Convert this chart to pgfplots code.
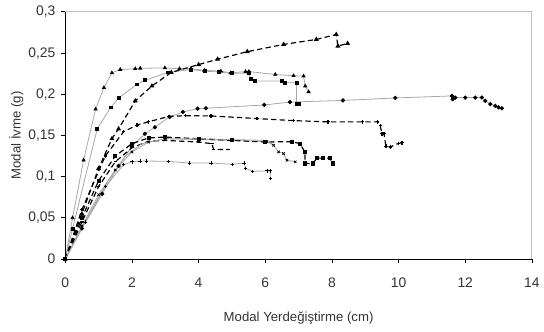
\documentclass[border=0pt]{standalone}
\usepackage{pgfplots}
\pgfplotsset{compat=1.18}
\usepackage{fontspec}
\setmainfont{Liberation Sans}
\begin{document}
\begin{tikzpicture}
\begin{axis}[name=ax,
  scale only axis, width=354pt, height=187.5pt,
  xmin=0, xmax=14, ymin=0, ymax=0.3,
  xtick={0,2,...,14}, ytick={0,0.05,...,0.3},
  /pgf/number format/use comma,
  /pgf/number format/assume math mode=true,
  yticklabel style={/pgf/number format/fixed,/pgf/number format/precision=2, xshift=-1pt},
  xticklabel style={yshift=-8pt},
  tick align=outside, xtick pos=left, ytick pos=left,
  major tick length=3pt,
  tick style={black, line width=0.6pt},
  axis line style={gray!50, line width=0.8pt},
  ticklabel style={font=\fontsize{10.5}{12}\selectfont, text=black!80},
  label style={font=\fontsize{10}{12}\selectfont, text=black!80},
  xlabel={Modal Yerdeğiştirme (cm)},
  ylabel={Modal İvme (g)},
  xlabel style={yshift=-11pt},
  ylabel style={yshift=-3pt},
  clip=false,
  solid/.style={gray!70, line width=0.6pt, mark size=1.3pt, mark options={black, fill=black}},
  dsh/.style={black, line width=0.9pt, dash pattern=on 4pt off 2.5pt, mark size=1.3pt, mark options={black, fill=black, solid}},
]
% C1 solid triangles
\addplot[solid, mark=triangle*] coordinates {(0,0)(0.22,0.05)(0.55,0.12)(0.91,0.182)(1.16,0.208)(1.40,0.226)(1.65,0.230)(2.1,0.231)(2.25,0.2315)(2.99,0.232)(3.43,0.231)(3.77,0.231)(4.17,0.229)(4.67,0.228)(4.96,0.226)(5.41,0.2275)(5.51,0.2275)(6.3,0.224)(6.85,0.2225)(7.15,0.222)(7.2,0.21)(7.3,0.203)};
% C2 solid squares
\addplot[solid, mark=square*, mark size=1.1pt] coordinates {(0,0)(0.22,0.037)(0.96,0.158)(1.36,0.184)(1.62,0.196)(2.15,0.212)(2.39,0.217)(3.09,0.2265)(3.77,0.2300)(4.2,0.228)(4.6,0.227)(5.0,0.2255)(5.5,0.2255)(5.56,0.219)(5.7,0.216)(6.5,0.216)(6.6,0.214)(6.94,0.214)(6.94,0.188)(7.0,0.188)};
% C3 dashed triangles
\addplot[dsh, mark=triangle*] coordinates {(0,0)(0.5,0.055)(1.0,0.11)(1.4,0.146)(1.6,0.158)(2.1,0.192)(2.6,0.21)(3.18,0.2265)(4.0,0.236)(4.57,0.2425)(5.46,0.2517)(6.55,0.2605)(7.53,0.2665)(8.13,0.2725)(8.18,0.2585)(8.47,0.2617)};
% C4 solid circles
\addplot[solid, mark=*] coordinates {(0,0)(0.5,0.037)(1.11,0.079)(1.6,0.113)(2.0,0.137)(2.39,0.152)(2.69,0.160)(3.13,0.1725)(3.53,0.1785)(3.97,0.1825)(4.22,0.183)(5.97,0.187)(6.74,0.1905)(8.33,0.1925)(9.9,0.1955)(11.6,0.198)(11.62,0.194)(11.7,0.196)(12.0,0.196)(12.3,0.196)(12.5,0.196)(12.6,0.192)(12.75,0.188)(12.9,0.186)(13.0,0.184)(13.1,0.183)};
% C5 dashed, plus marks
\addplot[dsh, mark=+] coordinates {(0,0)(0.5,0.06)(1.2,0.125)(1.75,0.1545)(2.15,0.1625)(2.49,0.1665)(3.1,0.173)(3.6,0.174)(4.37,0.1737)(5.75,0.1705)(6.84,0.168)(7.88,0.1665)(8.92,0.1665)(9.37,0.1665)(9.45,0.162)(9.5,0.152)(9.56,0.1525)(9.62,0.137)(9.75,0.136)(10.0,0.1405)(10.1,0.141)};
% C6 solid plus (lowest)
\addplot[solid, mark=+] coordinates {(0,0)(0.6,0.045)(1.2,0.088)(1.75,0.1145)(2.0,0.118)(2.24,0.119)(2.44,0.119)(3.09,0.1185)(3.73,0.1165)(4.37,0.1165)(5.01,0.115)(5.36,0.1165)(5.41,0.110)(5.61,0.1065)(6.05,0.107)(6.15,0.107)(6.15,0.098)};
% C7 solid
\addplot[solid, mark=x] coordinates {(0,0)(0.5,0.04)(1.0,0.078)(1.5,0.108)(2.0,0.13)(2.5,0.142)(3.0,0.146)(4.0,0.145)(5.0,0.144)(6.05,0.1425)(6.25,0.138)(6.4,0.130)(6.55,0.128)(6.65,0.12)(6.9,0.118)};
% C8 dashed squares
\addplot[dsh, mark=square*, mark size=1.1pt] coordinates {(0,0)(0.5,0.05)(1.0,0.095)(1.5,0.125)(2.0,0.14)(2.5,0.147)(3.0,0.148)(4.0,0.146)(5.0,0.144)(6.0,0.142)(6.8,0.1425)(7.04,0.140)(7.19,0.130)(7.19,0.116)(7.44,0.116)(7.54,0.1225)(7.73,0.1225)(7.93,0.1225)(8.03,0.116)};
% C9 dashed
\addplot[dsh, mark=-] coordinates {(0,0)(0.5,0.045)(1.0,0.088)(1.5,0.118)(2.0,0.135)(2.5,0.143)(3.0,0.144)(4.0,0.142)(4.4,0.140)(4.45,0.133)(4.9,0.133)};
% C10 solid
\addplot[solid, mark=none] coordinates {(0,0)(0.6,0.045)(1.2,0.09)(1.8,0.125)(2.3,0.14)(3.0,0.146)(4.0,0.146)(5.0,0.145)(6.0,0.144)(6.2,0.14)};
\draw[black, line width=0.8pt] (rel axis cs:0,1) -- (rel axis cs:0,0) -- (rel axis cs:1,0);
\end{axis}
\path ([xshift=-49.5pt,yshift=-55pt]ax.south west) rectangle ([xshift=4.5pt,yshift=9pt]ax.north east);
\end{tikzpicture}
\end{document}
